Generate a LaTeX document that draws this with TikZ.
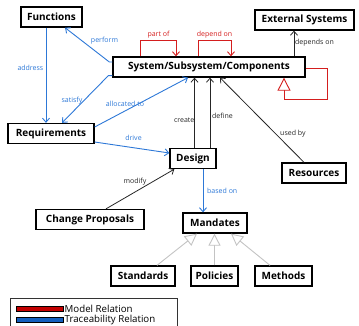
\documentclass[tikz,border=0pt]{standalone}
\usepackage{fontspec}
\setmainfont{Open Sans}
\usetikzlibrary{arrows.meta}
\definecolor{modelred}{RGB}{212,30,30}
\definecolor{traceblue}{RGB}{45,120,215}
\definecolor{genGray}{RGB}{195,195,195}
\definecolor{swatchred}{RGB}{195,0,0}
\definecolor{swatchblue}{RGB}{20,95,190}
\tikzset{
  box/.style={draw=black, line width=1.3pt, fill=white, inner sep=0pt,
    minimum height=20pt, font=\fontsize{10}{11}\selectfont\bfseries},
  lbl/.style={inner sep=0pt, font=\fontsize{7}{8}\selectfont},
  barb/.style={-{Straight Barb[length=4pt,width=7pt]}},
  trace/.style={barb, draw=traceblue, line width=0.9pt},
  plain/.style={barb, draw=black!85, line width=0.8pt},
  model/.style={barb, draw=modelred, line width=0.9pt},
  modelgen/.style={-{Triangle[open,length=13pt,width=13pt,fill=white]}, draw=modelred, line width=0.9pt},
  gen/.style={-{Triangle[open,length=12pt,width=12pt,fill=white]}, draw=genGray, line width=0.9pt},
  legendtext/.style={inner sep=0pt, anchor=west, font=\fontsize{9.7}{11}\selectfont},
}
\begin{document}
\begin{tikzpicture}[x=1pt,y=-1pt]
\useasboundingbox (0,0) rectangle (359,325);

% elements
\node[box, minimum width=61pt]  (func) at (51.5,17)  {Functions};
\node[box, minimum width=99pt]  (ext)  at (304.5,20) {External Systems};
\node[box, minimum width=192pt] (sys)  at (209,67)   {System/Subsystem/Components};
\node[box, minimum width=86pt]  (req)  at (51,133.5) {Requirements};
\node[box, minimum width=46pt]  (des)  at (193,158.5) {Design};
\node[box, minimum width=64pt]  (res)  at (314,173)  {Resources};
\node[box, minimum width=108pt] (cp)   at (90,219.5) {Change Proposals};
\node[box, minimum width=64pt]  (mand) at (215,223)  {Mandates};
\node[box, minimum width=64pt]  (std)  at (143,276)  {Standards};
\node[box, minimum width=47pt]  (pol)  at (214.5,276) {Policies};
\node[box, minimum width=57pt]  (meth) at (283.5,276) {Methods};

% traceability relations
\draw[trace] ([xshift=-5.5pt]func.south) -- ([xshift=-5pt]req.north);
\draw[trace] ([yshift=5pt]sys.west) -- ++(-3,0) -- ([xshift=13.5pt]func.south);
\draw[trace] ([yshift=2pt]sys.south west) -- ++(-4,0) -- ([xshift=11pt]req.north);
\draw[trace] ([yshift=6.5pt]req.east) -- ([xshift=-21pt]sys.south);
\draw[trace] ([yshift=-8.5pt]req.east) -- ([yshift=5.5pt]des.west);
\draw[trace] ([xshift=10pt]des.south) -- ([xshift=10pt]des.south |- mand.north);

% plain relations
\draw[plain] ([xshift=1.5pt]des.north) -- ([xshift=1.5pt]des.north |- sys.south);
\draw[plain] ([xshift=17pt]des.north) -- ([xshift=17pt]des.north |- sys.south);
\draw[plain] ([xshift=-10pt]res.north) -- ([xshift=11pt]sys.south);
\draw[plain] ([xshift=85pt]sys.north) -- ([xshift=85pt]sys.north |- ext.south);
\draw[plain] ([xshift=16pt]cp.north) -- ([xshift=5pt]des.south west);

% model relations
\draw[model] ([xshift=-69pt]sys.north) -- ++(0,-16) -| ([xshift=-33pt]sys.north);
\draw[model] ([xshift=-11pt]sys.north) -- ++(0,-16) -| ([xshift=22pt]sys.north);
\draw[modelgen] ([yshift=-1pt]sys.east) -- ++(22,0) -- ++(0,31) -| ([xshift=75pt]sys.south);

% specialisations of mandates
\draw[gen] ([xshift=14pt]std.north) -- ([xshift=-18pt]mand.south);
\draw[gen] (pol.north) -- (pol.north |- mand.south);
\draw[gen] ([xshift=-13.5pt]meth.north) -- ([xshift=16pt]mand.south);

% relation labels
\node[lbl, text=traceblue, anchor=east] (laddress) at (43.5,68) {address};
\node[lbl, text=traceblue] (lperform) at (104.5,41) {perform};
\node[lbl, text=traceblue] (lsatisfy) at (72,100.5) {satisfy};
\node[lbl, text=traceblue] (lalloc) at (125,104) {allocated to};
\node[lbl, text=traceblue] (ldrive) at (133.5,138) {drive};
\node[lbl, text=traceblue, anchor=west] (lbased) at (207,191) {based on};
\node[lbl, text=black!85, anchor=east] (lcreate) at (194.5,120) {create};
\node[lbl, text=black!85, anchor=west] (ldefine) at (212,116) {define};
\node[lbl, text=black!85, anchor=west] (lused) at (280,134) {used by};
\node[lbl, text=black!85, anchor=west] (ldepends) at (295,43) {depends on};
\node[lbl, text=black!85] (lmodify) at (135,182) {modify};
\node[lbl, text=modelred] (lpartof) at (158.5,35) {part of};
\node[lbl, text=modelred] (ldependon) at (214.5,35) {depend on};

% legend
\draw[black!80, line width=0.6pt] (10,298) rectangle (177,330);
\draw[black, line width=0.5pt, fill=swatchred] (16,306) rectangle (63,311.5);
\draw[black, line width=0.5pt, fill=swatchblue] (16,317) rectangle (63,322.5);
\node[legendtext] (lmodel) at (64.5,308.5) {Model Relation};
\node[legendtext] (ltrace) at (64.5,319.5) {Traceability Relation};
\end{tikzpicture}
\end{document}
